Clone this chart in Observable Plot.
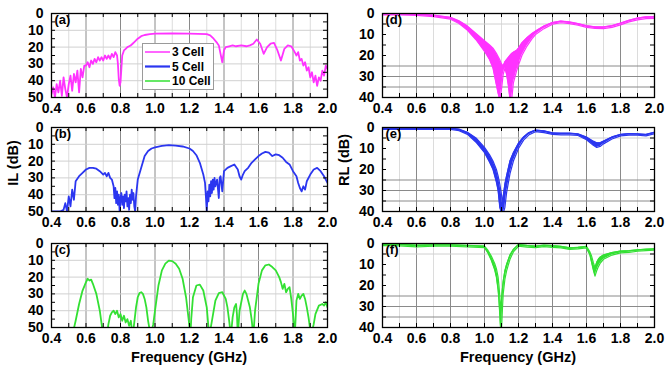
<!DOCTYPE html>
<html><head><meta charset="utf-8">
<script src="https://cdn.jsdelivr.net/npm/d3@7"></script>
<script src="https://cdn.jsdelivr.net/npm/@observablehq/plot@0.6"></script>
<style>
body{margin:0;background:#fff;}
#chart{position:relative;width:665px;height:368px;overflow:hidden;background:#fff;font-family:"Liberation Sans",Arial,sans-serif;font-weight:bold;}
.pan{position:absolute;}
.lab{position:absolute;font-size:14.5px;font-weight:bold;white-space:nowrap;color:#000;}
</style></head><body><div id="chart"></div>
<script>
// ---- categories / ticks ----
const seriesNames = ["3 Cell", "5 Cell", "10 Cell"];
const seriesColors = ["#ff33ff", "#2b36f0", "#33e033"];
const panelLabels = ["(a)", "(b)", "(c)", "(d)", "(e)", "(f)"];
const xTickLabels = [0.4, 0.6, 0.8, 1.0, 1.2, 1.4, 1.6, 1.8, 2.0];
const xMinorTicks = [0.5, 0.7, 0.9, 1.1, 1.3, 1.5, 1.7, 1.9];
const ilTicks = [0, 10, 20, 30, 40, 50];
const ilMinor = [5, 10, 15, 20, 25, 30, 35, 40, 45];
const rlTicks = [0, 10, 20, 30, 40];
const rlMinor = [5, 10, 15, 20, 25, 30, 35];
const ilGrid = [10, 20, 30, 40];
const rlGridLight = [5];
const rlGridDark = [25, 30, 35];

// ---- IL series [GHz, dB] ----
const il3 = [[0.40,48],[0.41,44],[0.42,50],[0.43,42],[0.44,47],[0.45,40],[0.46,49],[0.47,38],[0.48,45],[0.49,50],[0.50,42],[0.51,37],[0.52,46],[0.53,36],[0.54,41],[0.55,34],[0.56,47],[0.57,33],[0.58,38],[0.59,31],[0.60,31],[0.61,29],[0.62,32],[0.63,28],[0.64,30],[0.65,27],[0.66,29],[0.67,26],[0.68,28],[0.69,26],[0.70,28],[0.71,25],[0.72,27],[0.73,25],[0.74,27],[0.75,24],[0.76,26],[0.77,23],[0.78,25],[0.785,30],[0.79,39],[0.795,43],[0.80,41],[0.805,33],[0.81,25],[0.82,22],[0.83,21],[0.84,20],[0.85,19.5],[0.86,19],[0.87,18],[0.88,17],[0.90,15],[0.92,13.5],[0.94,12.8],[0.97,12.3],[1.00,12],[1.10,11.8],[1.20,12],[1.30,12.3],[1.32,13],[1.34,15],[1.36,17.5],[1.37,19],[1.38,24],[1.39,29],[1.40,22],[1.41,20],[1.43,19.5],[1.45,19],[1.47,19.5],[1.50,19],[1.53,19.5],[1.55,19],[1.57,18],[1.59,15.5],[1.61,18],[1.63,24],[1.65,20],[1.67,18],[1.69,17.5],[1.71,22],[1.73,28],[1.75,21],[1.77,19],[1.79,19.5],[1.81,23],[1.82,25],[1.83,23],[1.84,28],[1.85,27],[1.86,31],[1.87,29],[1.88,34],[1.89,32],[1.90,38],[1.91,35],[1.92,41],[1.93,37],[1.94,43],[1.95,38],[1.96,40],[1.97,34],[1.98,37],[1.99,31],[2.00,33]];
const il5 = [[0.40,50],[0.45,50],[0.47,49],[0.48,45],[0.49,50],[0.50,41],[0.51,47],[0.52,37],[0.53,43],[0.54,32],[0.56,29],[0.58,27],[0.60,25],[0.62,24],[0.64,24],[0.66,24.5],[0.68,26],[0.70,28],[0.71,27],[0.72,29],[0.73,27],[0.74,30],[0.75,31],[0.76,35],[0.765,42],[0.77,36],[0.775,45],[0.78,38],[0.785,46],[0.79,40],[0.795,50],[0.80,42],[0.805,39],[0.81,46],[0.815,41],[0.82,48],[0.825,40],[0.83,44],[0.835,38],[0.84,47],[0.845,42],[0.85,49],[0.855,40],[0.86,45],[0.865,37],[0.87,43],[0.875,39],[0.88,47],[0.885,50],[0.89,41],[0.90,31],[0.92,24],[0.94,17],[0.96,14],[0.98,12.5],[1.00,11.8],[1.04,11],[1.08,10.5],[1.12,10.8],[1.16,11.3],[1.20,12.5],[1.22,14],[1.24,16.5],[1.26,21],[1.28,28],[1.29,33],[1.295,41],[1.30,50],[1.305,38],[1.31,44],[1.315,34],[1.32,41],[1.325,32],[1.33,39],[1.335,31],[1.34,37],[1.345,30],[1.35,35],[1.36,31],[1.37,42],[1.375,30],[1.38,29],[1.39,38],[1.40,26],[1.42,24],[1.44,23],[1.46,22],[1.48,25],[1.49,29],[1.50,31],[1.51,28],[1.52,26],[1.54,24],[1.56,21],[1.58,19],[1.60,17],[1.62,15.5],[1.64,14.5],[1.66,15],[1.68,17],[1.70,16],[1.72,16.5],[1.74,18],[1.76,20.5],[1.78,22],[1.80,26],[1.82,29],[1.83,33],[1.84,36],[1.85,38],[1.86,35],[1.87,37],[1.88,32],[1.90,28],[1.92,25],[1.94,24],[1.96,26],[1.98,29],[2.00,33]];
const il10 = [[0.52,55],[0.54,46],[0.56,36],[0.58,28],[0.60,23],[0.61,21],[0.62,22],[0.63,21.5],[0.64,24],[0.66,30],[0.68,40],[0.70,55],[0.72,55],[0.73,48],[0.74,43],[0.75,41],[0.76,40],[0.77,42],[0.78,40],[0.79,44],[0.80,42],[0.81,46],[0.82,43],[0.83,47],[0.84,45],[0.85,49],[0.86,46],[0.87,55],[0.88,47],[0.89,38],[0.90,32],[0.91,29.5],[0.92,29],[0.93,30],[0.94,33],[0.95,38],[0.96,46],[0.975,55],[0.99,48],[1.00,40],[1.02,25],[1.04,16],[1.06,12],[1.08,10.2],[1.10,10.5],[1.12,12],[1.14,15],[1.16,21],[1.18,32],[1.195,45],[1.205,55],[1.21,45],[1.22,32],[1.24,25],[1.26,24.5],[1.28,28],[1.30,38],[1.31,50],[1.315,55],[1.33,46],[1.35,34],[1.37,29.5],[1.39,29],[1.41,33],[1.42,38],[1.43,46],[1.44,55],[1.45,44],[1.46,38],[1.47,36],[1.475,42],[1.48,55],[1.49,40],[1.51,30],[1.52,28],[1.53,30],[1.55,38],[1.56,45],[1.57,55],[1.58,40],[1.60,24],[1.62,16],[1.64,13],[1.66,12.5],[1.68,14],[1.70,16],[1.72,20],[1.73,23],[1.74,27],[1.75,24],[1.76,29],[1.77,27],[1.78,26],[1.79,33],[1.80,42],[1.81,55],[1.815,45],[1.82,34],[1.83,30],[1.84,33],[1.85,31],[1.86,30],[1.87,33],[1.88,38],[1.89,44],[1.905,55],[1.92,48],[1.93,42],[1.95,37],[1.97,36],[1.98,37],[1.99,35],[2.00,38]];

// ---- RL series [GHz, dB upper edge, dB lower edge] ----
const rl3 = [[0.40,0.2,0.7],[0.50,0.2,0.7],[0.60,0.3,0.9],[0.70,0.8,1.5],[0.80,1.8,2.7],[0.85,3.5,4.8],[0.90,6,8],[0.95,9.5,12.5],[1.00,13,18],[1.03,15,22],[1.05,16.5,26],[1.07,19,34],[1.08,20.5,38],[1.09,22,41],[1.10,24,36],[1.11,25,29],[1.12,23,26],[1.13,22,29],[1.14,21,34],[1.15,20,41],[1.16,19,41],[1.17,18.5,33],[1.19,17.5,27],[1.20,16.5,24.5],[1.22,14,20],[1.25,11.5,15.5],[1.28,9.5,12],[1.30,8.4,10],[1.35,6,7.2],[1.40,4.3,5.1],[1.45,3.6,4.4],[1.50,4,4.8],[1.55,4.8,5.6],[1.60,5.8,6.6],[1.65,6.3,7.1],[1.70,6.4,7.2],[1.75,5.8,6.6],[1.80,4.6,5.4],[1.85,3.2,4],[1.90,2.2,3],[1.95,1.6,2.4],[2.00,1.5,2.3]];
const rl5 = [[0.40,0.3,0.9],[0.50,0.3,0.9],[0.60,0.3,0.9],[0.70,0.3,0.9],[0.80,0.3,0.9],[0.85,0.8,1.5],[0.90,2.3,3.3],[0.95,5,7],[1.00,9.5,12],[1.03,13,16.5],[1.05,16,20],[1.07,20,26],[1.08,23,30],[1.09,27,38],[1.10,32,41],[1.105,36,41],[1.11,33,41],[1.12,27,38],[1.13,23,31],[1.15,16,22],[1.17,12,16],[1.20,7.5,10],[1.23,4.5,6],[1.26,2.5,3.6],[1.30,1.2,2],[1.35,1.6,2.4],[1.40,2.5,3.3],[1.45,2.7,3.5],[1.50,2.7,3.5],[1.55,3,3.8],[1.60,4.5,5.8],[1.64,6.5,8.5],[1.66,7.3,9.5],[1.68,7.3,9],[1.70,6.5,7.8],[1.75,4.5,5.5],[1.80,3.3,4],[1.85,2.9,3.6],[1.90,3,3.7],[1.95,3.3,4],[2.00,2.3,3]];
const rl10 = [[0.40,0.3,1],[0.50,0.4,1.1],[0.60,0.8,1.6],[0.70,0.6,1.3],[0.80,0.6,1.3],[0.90,0.9,1.6],[1.00,1.2,2],[1.02,3.2,4.5],[1.04,6,8],[1.06,9.5,12.5],[1.07,12,16],[1.08,16,22],[1.085,20,27],[1.09,25,34],[1.095,32,41],[1.10,27,41],[1.105,22,32],[1.11,18,24],[1.12,13,17],[1.13,10,13],[1.15,5.5,7.5],[1.17,2.8,4],[1.20,0.5,1.3],[1.25,0.9,1.7],[1.30,1.2,2],[1.35,0.8,1.5],[1.40,1,1.8],[1.45,1.3,2.1],[1.50,2,2.8],[1.55,1.8,2.6],[1.60,1.3,2.1],[1.62,4,5.5],[1.63,6,9],[1.64,9,12.5],[1.65,11.5,15.5],[1.66,9,13],[1.67,7.5,11],[1.68,6.5,9.5],[1.70,5.5,7.5],[1.75,4.3,5.5],[1.80,3.6,4.5],[1.85,3.4,4.2],[1.90,3,3.7],[1.95,2.7,3.4],[2.00,2.5,3.2]];

// ---- layout ----
const chart = document.getElementById("chart");
const FONT = "'Liberation Sans', Arial, sans-serif";
const FH = 84;

function panel({left, top, width, marginRight, yMax, yTicks, yMinor, gridLight, gridDark, label, marks}) {
  const fw = width - 51 - marginRight;
  const p = Plot.plot({
    width, height: 118,
    marginLeft: 51, marginRight, marginTop: 13, marginBottom: 21,
    style: {background: "transparent", fontFamily: FONT, fontSize: "14px", fontWeight: "bold", color: "black", overflow: "visible"},
    x: {domain: [0.4, 2.0]},
    y: {domain: [0, yMax], reverse: true},
    marks: [
      Plot.ruleX(xMinorTicks, {stroke: "#dcdcdc", strokeWidth: 1}),
      Plot.ruleX(xTickLabels.slice(1, -1), {stroke: "#8a8a8a", strokeWidth: 1}),
      Plot.ruleY(gridLight, {stroke: "#d0d0d0", strokeWidth: 1}),
      Plot.ruleY(gridDark, {stroke: "#8a8a8a", strokeWidth: 1}),
      ...marks,
      Plot.ruleX(xTickLabels.concat(xMinorTicks), {insetBottom: FH - 4, stroke: "black"}),
      Plot.ruleX(xTickLabels.concat(xMinorTicks), {insetTop: FH - 4, stroke: "black"}),
      Plot.ruleY(yMinor, {insetRight: fw - 4, stroke: "black"}),
      Plot.ruleY(yMinor, {insetLeft: fw - 4, stroke: "black"}),
      Plot.frame({stroke: "black", strokeWidth: 1.3}),
      Plot.axisX({ticks: xTickLabels, tickFormat: d3.format(".1f"), tickSize: 0, tickPadding: 6, label: null}),
      Plot.axisY({ticks: yTicks, tickSize: 0, tickPadding: 8, label: null}),
      Plot.text([label], {text: d => d, frameAnchor: "top-left", dx: 3, dy: 1, lineAnchor: "top", textAnchor: "start", fontSize: 13, fontWeight: "bold"})
    ]
  });
  p.classList.add("pan");
  p.style.left = left + "px";
  p.style.top = top + "px";
  p.style.maxWidth = "none";
  chart.appendChild(p);
}

const rowTops = [0, 114, 230];
const ilSeries = [il3, il5, il10];
const rlSeries = [rl3, rl5, rl10];

ilSeries.forEach((s, i) => panel({
  left: 0, top: rowTops[i], width: 345, marginRight: 18,
  yMax: 50, yTicks: ilTicks, yMinor: ilMinor, gridLight: ilGrid, gridDark: [],
  label: panelLabels[i],
  marks: [Plot.line(s, {x: d => d[0], y: d => d[1], stroke: seriesColors[i], strokeWidth: 1.8, clip: true})]
}));

rlSeries.forEach((s, i) => panel({
  left: 331, top: rowTops[i], width: 334, marginRight: 11,
  yMax: 40, yTicks: rlTicks, yMinor: rlMinor, gridLight: rlGridLight, gridDark: rlGridDark,
  label: panelLabels[i + 3],
  marks: [
    Plot.areaY(s, {x: d => d[0], y1: d => d[1], y2: d => d[2], fill: seriesColors[i], clip: true}),
    Plot.line(s, {x: d => d[0], y: d => d[1], stroke: seriesColors[i], strokeWidth: 1.2, clip: true}),
    Plot.line(s, {x: d => d[0], y: d => d[2], stroke: seriesColors[i], strokeWidth: 1.2, clip: true})
  ]
}));

// axis titles
function label(text, x, y, rot) {
  const d = document.createElement("div");
  d.className = "lab";
  d.textContent = text;
  d.style.left = x + "px";
  d.style.top = y + "px";
  d.style.transform = "translate(-50%,-50%)" + (rot ? " rotate(-90deg)" : "");
  chart.appendChild(d);
}
label("IL (dB)", 13, 163, true);
label("RL (dB)", 344, 160, true);
label("Frequency (GHz)", 189, 357, false);
label("Frequency (GHz)", 518, 357, false);

// legend in panel (a)
const lg = d3.select(chart).append("svg")
  .attr("width", 72).attr("height", 48)
  .style("position", "absolute").style("left", "142px").style("top", "43px");
lg.append("rect").attr("x", 0.5).attr("y", 0.5).attr("width", 71).attr("height", 46)
  .attr("fill", "white").attr("stroke", "#9a9a9a");
seriesNames.forEach((n, i) => {
  const y = 9 + i * 14.5;
  lg.append("line").attr("x1", 3).attr("x2", 28).attr("y1", y).attr("y2", y)
    .attr("stroke", seriesColors[i]).attr("stroke-width", i === 1 ? 2.2 : 1.5);
  lg.append("text").attr("x", 30).attr("y", y + 4.3).text(n)
    .attr("font-family", FONT).attr("font-weight", "bold").attr("font-size", 12);
});
</script></body></html>
